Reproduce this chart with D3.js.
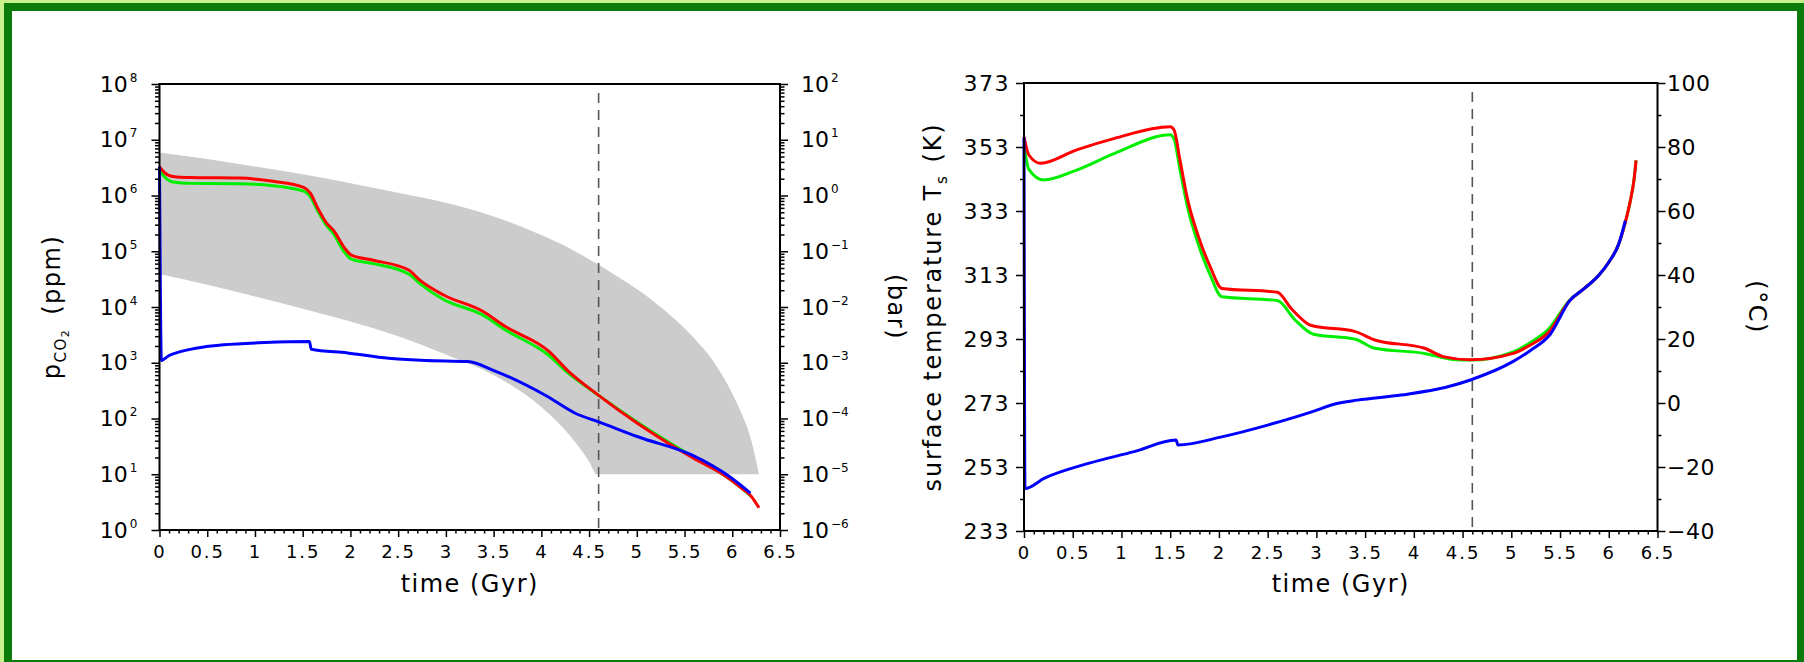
<!DOCTYPE html>
<html>
<head>
<meta charset="utf-8">
<script src="https://cdn.jsdelivr.net/npm/d3@7"></script>
<style>
  html, body { margin: 0; padding: 0; background: #fff; }
  svg { display: block; }
  text { font-family: "DejaVu Sans", Verdana, sans-serif; fill: #000; }
</style>
</head>
<body>
<svg id="fig" width="1804" height="662"></svg>
<script>
// ---------- axes ----------
const timeTickValues = [0, 0.5, 1, 1.5, 2, 2.5, 3, 3.5, 4, 4.5, 5, 5.5, 6, 6.5];
const timeTickLabels = ["0", "0.5", "1", "1.5", "2", "2.5", "3", "3.5", "4", "4.5", "5", "5.5", "6", "6.5"];
const ppmDecades = [1, 1e1, 1e2, 1e3, 1e4, 1e5, 1e6, 1e7, 1e8];
const ppmExponents = ["0", "1", "2", "3", "4", "5", "6", "7", "8"];
const barDecades = [1e-6, 1e-5, 1e-4, 1e-3, 1e-2, 1e-1, 1, 1e1, 1e2];
const barExponents = ["\u22126", "\u22125", "\u22124", "\u22123", "\u22122", "\u22121", "0", "1", "2"];
const kelvinTicks = [233, 253, 273, 293, 313, 333, 353, 373];
const celsiusTicks = [-40, -20, 0, 20, 40, 60, 80, 100];
const presentDay = 4.6; // Gyr

// ---------- CO2 range band (ppm) ----------
const bandTime  = [0, 0.5, 1.0, 1.5, 2.0, 2.5, 3.0, 3.5, 4.0, 4.3, 4.5, 4.58, 4.8, 5.0, 5.2, 5.4, 5.6, 5.8, 6.0, 6.1, 6.2, 6.28];
const bandUpper = [5.9e6, 4.5e6, 3.3e6, 2.4e6, 1.66e6, 1.12e6, 7.4e5, 4.2e5, 1.95e5, 1.12e5, 7.2e4, 6.0e4, 3.5e4, 2.1e4, 1.17e4, 6.0e3, 2.75e3, 1.07e3, 280, 120, 40, 10];
const bandLower = [3.9e4, 2.5e4, 1.55e4, 9.3e3, 5.5e3, 3.0e3, 1.4e3, 600, 160, 49, 17, 10, 10, 10, 10, 10, 10, 10, 10, 10, 10, 10];

// ---------- pCO2 (ppm) ----------
const co2RedTime = [0, 0.05, 0.14, 0.32, 0.84, 1.19, 1.51, 1.58, 1.65, 1.75, 1.82, 1.93, 2.01, 2.24, 2.61, 2.73, 2.97, 3.39, 3.62, 4.08, 4.27, 4.6, 5.01, 5.58, 5.88, 6.1, 6.2, 6.28];
const co2Red     = [3.3e6, 2.6e6, 2.2e6, 2.1e6, 2.05e6, 1.8e6, 1.4e6, 1.1e6, 6.3e5, 3.2e5, 2.4e5, 1.2e5, 8.5e4, 6.9e4, 4.6e4, 3.0e4, 1.66e4, 8.3e3, 4.5e3, 1.6e3, 740, 260, 81, 20, 10.5, 5.6, 4.0, 2.5];
const co2GreenTime = [0, 0.05, 0.14, 0.32, 0.84, 1.19, 1.51, 1.58, 1.65, 1.75, 1.82, 1.93, 2.01, 2.24, 2.61, 2.73, 2.97, 3.39, 3.62, 4.08, 4.27, 4.6, 5.01, 5.58, 5.88, 6.1, 6.2];
const co2Green     = [2.9e6, 2.2e6, 1.75e6, 1.65e6, 1.62e6, 1.5e6, 1.2e6, 9.5e5, 5.6e5, 2.9e5, 2.1e5, 1.0e5, 7.2e4, 6.0e4, 3.9e4, 2.6e4, 1.38e4, 7.1e3, 3.9e3, 1.35e3, 680, 260, 85, 21, 10.5, 5.6, 4.0];
const co2BlueTime = [0, 0.02, 0.1, 0.23, 0.45, 0.67, 1.1, 1.57, 1.59, 1.97, 2.4, 2.8, 3.23, 3.49, 4.06, 4.36, 4.6, 5.01, 5.58, 5.97, 6.19];
const co2Blue     = [3.3e6, 1.1e3, 1.35e3, 1.6e3, 1.9e3, 2.1e3, 2.3e3, 2.4e3, 1.75e3, 1.5e3, 1.2e3, 1.1e3, 1.05e3, 740, 250, 123, 87, 47, 22, 9.1, 4.6];

// ---------- surface temperature (K) ----------
const tsRedTime = [0, 0.05, 0.17, 0.54, 0.93, 1.5, 1.54, 1.6, 1.68, 1.79, 1.91, 2.03, 2.6, 2.74, 2.95, 3.4, 3.6, 4.11, 4.3, 4.58, 5.02, 5.2, 5.38, 5.6, 5.75, 5.9, 6.0, 6.1, 6.17, 6.22, 6.26, 6.28];
const tsRed     = [356.2, 350.5, 347.9, 352.1, 355.7, 359.3, 358.3, 348.9, 336.4, 325.0, 315.6, 308.8, 307.6, 302.6, 297.2, 295.3, 292.7, 290.1, 287.5, 286.5, 288.5, 291.2, 295.0, 305.0, 308.8, 313.0, 317.0, 322.5, 329.5, 336.0, 343.0, 348.8];
const tsGreenTime = [0, 0.05, 0.2, 0.54, 0.93, 1.5, 1.54, 1.6, 1.68, 1.79, 1.91, 2.03, 2.6, 2.78, 2.97, 3.4, 3.6, 4.11, 4.4, 4.58, 5.02, 5.2, 5.38, 5.6, 5.75, 5.9, 6.0, 6.1, 6.17, 6.22, 6.26, 6.28];
const tsGreen     = [353.5, 346.0, 342.7, 345.8, 351.0, 356.8, 355.5, 346.0, 334.0, 322.5, 313.0, 306.2, 305.0, 299.0, 294.5, 292.9, 290.1, 288.5, 286.6, 286.4, 289.0, 292.0, 296.0, 305.2, 308.8, 313.0, 317.0, 322.5, 329.5, 336.0, 343.0, 348.8];
const tsBlueTime = [0, 0.01, 0.21, 0.67, 1.13, 1.56, 1.58, 2.04, 2.5, 2.96, 3.19, 3.42, 3.87, 4.33, 4.58, 5.02, 5.2, 5.4, 5.6, 5.75, 5.9, 6.0, 6.1, 6.17];
const tsBlue     = [356.0, 246.3, 249.5, 254.2, 257.8, 261.4, 259.9, 262.5, 266.1, 270.3, 272.7, 273.9, 275.5, 277.9, 280.2, 286.0, 289.5, 294.5, 305.0, 308.8, 313.0, 317.0, 322.5, 330.0];

// ---------- layout ----------
const svg = d3.select("#fig");
svg.append("rect").attr("width", 1804).attr("height", 662).attr("fill", "#c8f08c");
svg.append("rect").attr("x", 4).attr("y", 3).attr("width", 1800).attr("height", 659).attr("fill", "#0b7b0b");
svg.append("rect").attr("x", 12).attr("y", 11).attr("width", 1785).attr("height", 649).attr("fill", "#ffffff");

const PL = { x0: 159.5, x1: 780, y0: 84, y1: 530 };
const PR = { x0: 1024, x1: 1657.5, y0: 83, y1: 531 };

const COLORS = { red: "#ff0000", green: "#00ee00", blue: "#0000ff", band: "#cccccc" };

const minorTime = d3.range(0, 65).map(i => i / 10).filter(v => Math.abs(v * 2 - Math.round(v * 2)) > 1e-6);

function styleAxis(g, fontSize, spacing) {
  g.select(".domain").remove();
  g.selectAll(".tick line").attr("stroke", "#000").attr("stroke-width", 1.5);
  g.attr("font-family", null).attr("font-size", null);
  g.selectAll(".tick text").attr("font-size", fontSize).attr("letter-spacing", spacing).attr("fill", "#000");
}

function timeAxis(g, x, P) {
  const major = g.append("g").attr("transform", `translate(0,${P.y1})`)
    .call(d3.axisBottom(x).tickValues(timeTickValues).tickSize(7).tickPadding(8)
      .tickFormat((d, i) => timeTickLabels[i]));
  styleAxis(major, 18, 2);
  const minor = g.append("g").attr("transform", `translate(0,${P.y1})`)
    .call(d3.axisBottom(x).tickValues(minorTime).tickSize(3.5).tickFormat(""));
  styleAxis(minor, 18, 0);
  g.append("text").attr("x", (P.x0 + P.x1) / 2).attr("y", 592)
    .attr("text-anchor", "middle").attr("font-size", 24).attr("letter-spacing", 1.5)
    .text("time (Gyr)");
}

function powerLabels(g, exps) {
  g.selectAll(".tick text").each(function (d, i) {
    const t = d3.select(this);
    t.text(null);
    t.append("tspan").text("10");
    t.append("tspan").attr("font-size", 12).attr("dy", -10).attr("dx", 2).text(exps[i]);
  });
}

function frame(g, P) {
  g.append("rect").attr("x", P.x0).attr("y", P.y0)
    .attr("width", P.x1 - P.x0).attr("height", P.y1 - P.y0)
    .attr("fill", "none").attr("stroke", "#000").attr("stroke-width", 2);
}

function presentLine(g, x, P) {
  g.append("line").attr("x1", x(presentDay)).attr("x2", x(presentDay))
    .attr("y1", P.y0 + 9).attr("y2", P.y1)
    .attr("stroke", "#555").attr("stroke-width", 1.6).attr("stroke-dasharray", "10,7");
}

function series(g, x, y, ts, vs, color) {
  const pts = ts.map((t, i) => [t, vs[i]]);
  g.append("path").datum(pts)
    .attr("fill", "none").attr("stroke", color).attr("stroke-width", 3)
    .attr("stroke-linejoin", "round")
    .attr("d", d3.line().x(d => x(d[0])).y(d => y(d[1])).curve(d3.curveMonotoneX));
}

// ================= left panel: pCO2 =================
const gL = svg.append("g");
const xL = d3.scaleLinear().domain([0, 6.5]).range([PL.x0, PL.x1]);
const yL = d3.scaleLog().domain([1, 1e8]).range([PL.y1, PL.y0]);
const yLbar = d3.scaleLog().domain([1e-6, 1e2]).range([PL.y1, PL.y0]);

const bandPts = bandTime.map((t, i) => ({ t, lo: bandLower[i], hi: bandUpper[i] }));
gL.append("path").datum(bandPts).attr("fill", COLORS.band)
  .attr("d", d3.area().x(d => xL(d.t)).y0(d => yL(d.lo)).y1(d => yL(d.hi)).curve(d3.curveMonotoneX));

presentLine(gL, xL, PL);
series(gL, xL, yL, co2GreenTime, co2Green, COLORS.green);
series(gL, xL, yL, co2RedTime, co2Red, COLORS.red);
series(gL, xL, yL, co2BlueTime, co2Blue, COLORS.blue);

const logMinor = (decades) => decades.slice(0, -1).flatMap(d => d3.range(2, 10).map(k => k * d));

const lMaj = gL.append("g").attr("transform", `translate(${PL.x0},0)`)
  .call(d3.axisLeft(yL).tickValues(ppmDecades).tickSize(8).tickPadding(14));
styleAxis(lMaj, 22, 0);
powerLabels(lMaj, ppmExponents);
const lMin = gL.append("g").attr("transform", `translate(${PL.x0},0)`)
  .call(d3.axisLeft(yL).tickValues(logMinor(ppmDecades)).tickSize(4.5).tickFormat(""));
styleAxis(lMin, 22, 0);

const rMaj = gL.append("g").attr("transform", `translate(${PL.x1},0)`)
  .call(d3.axisRight(yLbar).tickValues(barDecades).tickSize(8).tickPadding(13));
styleAxis(rMaj, 22, 0);
powerLabels(rMaj, barExponents);
const rMin = gL.append("g").attr("transform", `translate(${PL.x1},0)`)
  .call(d3.axisRight(yLbar).tickValues(logMinor(barDecades)).tickSize(4.5).tickFormat(""));
styleAxis(rMin, 22, 0);

timeAxis(gL, xL, PL);
frame(gL, PL);

const lab1 = gL.append("text").attr("transform", `translate(60,${(PL.y0 + PL.y1) / 2}) rotate(-90)`)
  .attr("text-anchor", "middle").attr("font-size", 24).attr("letter-spacing", 1.5);
lab1.append("tspan").text("p");
lab1.append("tspan").attr("font-size", 15).attr("dy", 6).text("CO");
lab1.append("tspan").attr("font-size", 11).attr("dy", 3).text("2");
lab1.append("tspan").attr("dy", -9).attr("dx", 14).text("(ppm)");

gL.append("text").attr("transform", `translate(888,${(PL.y0 + PL.y1) / 2}) rotate(90)`)
  .attr("text-anchor", "middle").attr("font-size", 24).attr("letter-spacing", 1.5)
  .text("(bar)");

// ================= right panel: surface temperature =================
const gR = svg.append("g");
const xR = d3.scaleLinear().domain([0, 6.5]).range([PR.x0, PR.x1]);
const yR = d3.scaleLinear().domain([233, 373]).range([PR.y1, PR.y0]);
const yRc = d3.scaleLinear().domain([-40, 100]).range([PR.y1, PR.y0]);

presentLine(gR, xR, PR);
series(gR, xR, yR, tsGreenTime, tsGreen, COLORS.green);
series(gR, xR, yR, tsRedTime, tsRed, COLORS.red);
series(gR, xR, yR, tsBlueTime, tsBlue, COLORS.blue);

const kMaj = gR.append("g").attr("transform", `translate(${PR.x0},0)`)
  .call(d3.axisLeft(yR).tickValues(kelvinTicks).tickSize(8).tickPadding(6).tickFormat(d3.format("d")));
styleAxis(kMaj, 22, 1.5);
const kMin = gR.append("g").attr("transform", `translate(${PR.x0},0)`)
  .call(d3.axisLeft(yR).tickValues(kelvinTicks.slice(0, -1).map(k => k + 10)).tickSize(4).tickFormat(""));
styleAxis(kMin, 22, 0);

const cMaj = gR.append("g").attr("transform", `translate(${PR.x1},0)`)
  .call(d3.axisRight(yRc).tickValues(celsiusTicks).tickSize(8).tickPadding(1.5)
    .tickFormat(d => (d < 0 ? "\u2212" + Math.abs(d) : String(d))));
styleAxis(cMaj, 22, 0.5);
const cMin = gR.append("g").attr("transform", `translate(${PR.x1},0)`)
  .call(d3.axisRight(yRc).tickValues(celsiusTicks.slice(0, -1).map(c => c + 10)).tickSize(4).tickFormat(""));
styleAxis(cMin, 22, 0);

timeAxis(gR, xR, PR);
frame(gR, PR);

const lab2 = gR.append("text").attr("transform", `translate(941,${(PR.y0 + PR.y1) / 2}) rotate(-90)`)
  .attr("text-anchor", "middle").attr("font-size", 24).attr("letter-spacing", 1.8);
lab2.append("tspan").text("surface temperature T");
lab2.append("tspan").attr("font-size", 15).attr("dy", 6).text("s");
lab2.append("tspan").attr("dy", -6).attr("dx", 12).text("(K)");

gR.append("text").attr("transform", `translate(1749,${(PR.y0 + PR.y1) / 2}) rotate(90)`)
  .attr("text-anchor", "middle").attr("font-size", 24).attr("letter-spacing", 1.5)
  .text("(\u00B0C)");
</script>
</body>
</html>
